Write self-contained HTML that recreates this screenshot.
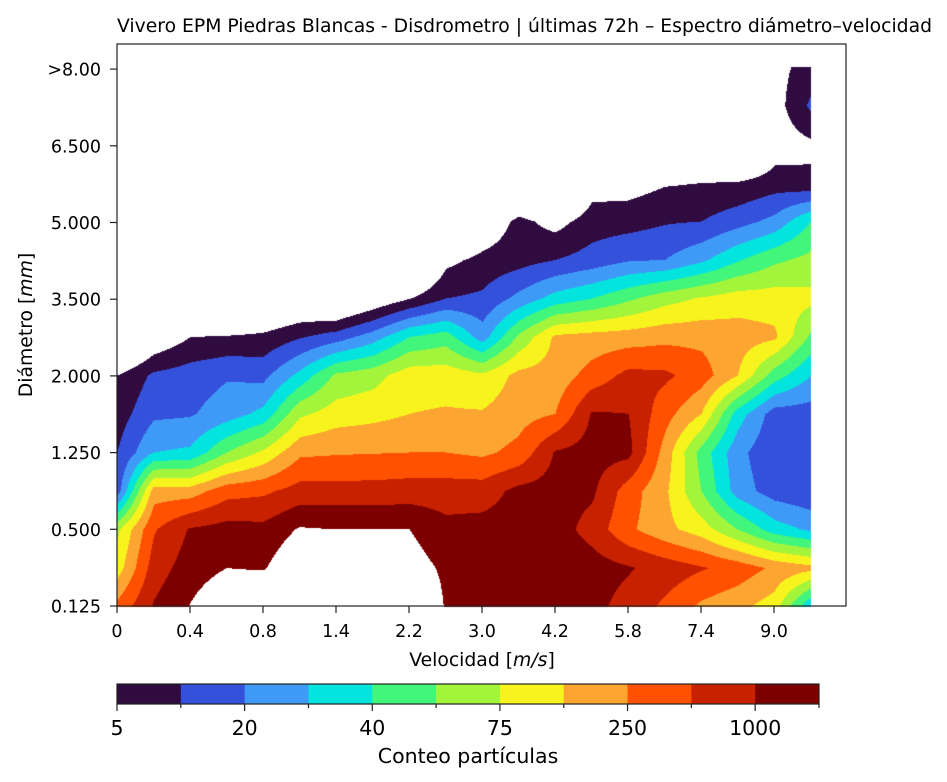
<!DOCTYPE html>
<html><head><meta charset="utf-8"><style>
body{margin:0;background:#fff;width:947px;height:782px;overflow:hidden;font-family:"DejaVu Sans","Liberation Sans",sans-serif}
#wrap{position:relative;width:947px;height:782px}
canvas{position:absolute;left:0;top:0}
svg{position:absolute;left:0;top:0;font-family:"DejaVu Sans","Liberation Sans",sans-serif}
</style></head><body>
<div id="wrap">
<canvas id="cv" width="947" height="782"></canvas>
<svg id="sv" width="947" height="782"></svg>
</div>
<script>
const xTickLabels=["0","0.4","0.8","1.4","2.2","3.0","4.2","5.8","7.4","9.0"];
const yTickLabels=["0.125","0.500","1.250","2.000","3.500","5.000","6.500",">8.00"];
const levelColors=["#300b40","#3451dc","#3f9af7","#04e4de","#42f57b","#a3f53b","#f7f31d","#fda531","#ff5100","#c82100","#7d0000"];
const cbTickLabels=["5","20","40","75","250","1000"];
// level values per velocity bin (rows: diameter bins bottom->top)
const col0=[8.3,6.5,5.8,1.5,1.0,0.5,0,-3,-3,-3,-3,-3,-3,-3,-3];
const col1=[10.1,9.5,8.9,7.5,3.0,1.8,1.2,-1,-3,-3,-3,-3,-3,-3,-3];
const col2=[11.05,10.5,10.1,7.5,3.2,1.9,1.5,0,-3,-3,-3,-3,-3,-3,-3];
const col3=[12,11.0,10.4,8.6,5.0,2.5,1.9,0.1,-3,-3,-3,-3,-3,-3,-3];
const col4=[12.5,10.9,10.3,8.8,6.2,3.3,1.7,0.25,-2,-3,-3,-3,-3,-3,-3];
const col5=[13,12,11.1,9.4,7.8,5.8,3.3,0.9,-1.5,-3,-3,-3,-3,-3,-3];
const col6=[13,12.5,11.0,9.4,7.9,6.5,5.2,1.5,-2,-3,-3,-3,-3,-3,-3];
const col7=[13,12.5,11.0,9.4,7.95,6.7,5.6,2.5,-1,-3,-3,-3,-3,-3,-3];
const col8=[12.5,11.5,11.0,9.5,8.0,7.0,6.6,4,-0.05,-3,-3,-3,-3,-3,-3];
const col9=[10.9,10.8,10.3,9.5,8.0,7.1,6.6,4.5,1.0,-0.3,-3,-3,-3,-3,-3];
const col10=[10.5,10.5,10.4,9.5,7.8,7.1,6.2,2.5,1.2,0.3,-1,-3,-3,-3,-3];
const col11=[10.6,10.6,10.5,10.3,8.3,7.6,7.3,5.2,2.3,0.6,0.3,-2,-3,-3,-3];
const col12=[10.6,10.7,10.5,10.4,10.1,8.0,7.4,7.2,3.4,1.0,-0.4,-3,-3,-3,-3];
const col13=[10.3,10.5,9.6,10.2,10.4,10.1,8.4,7.4,4.0,1.4,0.5,-0.5,-3,-3,-3];
const col14=[9.6,10.1,8.2,8.5,10.3,10.0,9.3,7.5,4.8,1.9,0.6,-0.5,-3,-3,-3];
const col15=[8.8,9.6,7.3,7.2,7.6,8.4,9.2,7.7,5.6,2.0,0.9,-0.1,-3,-3,-3];
const col16=[7.8,9.1,6.5,5.0,4.6,7.0,8.5,7.7,6.1,2.8,1.0,0.0,-3,-3,-3];
const col17=[7.3,8.6,5.0,2.5,2.3,3.5,7.0,7.5,6.5,3.9,1.6,0.1,-3,-3,-3];
const col18=[6.5,7.8,3.5,1.5,1.2,1.5,4.5,7.2,6.5,4.8,2.3,0.5,-0.6,-0.5,-0.34];
const col19=[3.0,7.3,2.8,1.2,1.3,1.5,3.0,4.8,6.3,5.3,4.0,0.2,-0.2,1.2,0.4];
const grid=[col0,col1,col2,col3,col4,col5,col6,col7,col8,col9,col10,col11,col12,col13,col14,col15,col16,col17,col18,col19];

const X0=117,X1=846,Y0=44,Y1=606;
const colW=36.5,rowH=38.5,gy0=606;
function xPos(c){return X0+c*colW;}
function yPos(r){return gy0-r*rowH;}

const cv=document.getElementById('cv');const ctx=cv.getContext('2d');
const img=ctx.createImageData(947,782);
function hex(h){return [parseInt(h.substr(1,2),16),parseInt(h.substr(3,2),16),parseInt(h.substr(5,2),16)];}
const rgb=levelColors.map(hex);
const nc=grid.length,nr=grid[0].length;
for(let py=Math.ceil(yPos(nr-1));py<=gy0;py++){
  const fr=(gy0-py)/rowH;
  for(let px=X0;px<=xPos(nc-1);px++){
    const fc=(px-X0)/colW;
    let c=Math.min(Math.floor(fc),nc-2),r=Math.min(Math.floor(fr),nr-2);
    const tx=fc-c,ty=fr-r;
    const v=(1-tx)*(1-ty)*grid[c][r]+tx*(1-ty)*grid[c+1][r]+(1-tx)*ty*grid[c][r+1]+tx*ty*grid[c+1][r+1];
    if(v<0||v>=11)continue;
    const k=rgb[Math.floor(v)];const i=(py*947+px)*4;
    img.data[i]=k[0];img.data[i+1]=k[1];img.data[i+2]=k[2];img.data[i+3]=255;
  }
}
ctx.putImageData(img,0,0);

const NS="http://www.w3.org/2000/svg";const sv=document.getElementById('sv');
function el(t,a,txt){const e=document.createElementNS(NS,t);for(const k in a)e.setAttribute(k,a[k]);if(txt!==undefined)e.textContent=txt;sv.appendChild(e);return e;}
let e;
e=el('rect',{x:X0,y:Y0,width:X1-X0,height:Y1-Y0,fill:'none',stroke:'#222','stroke-width':1.2});


e=el('text',{x:524.5,y:32,'font-size':18.8,'text-anchor':'middle',textLength:815,lengthAdjust:'spacingAndGlyphs'},'Vivero EPM Piedras Blancas - Disdrometro | últimas 72h – Espectro diámetro–velocidad');


xTickLabels.forEach((l,i)=>{const x=X0+i*73;
  e=el('line',{x1:x,x2:x,y1:Y1,y2:Y1+7,stroke:'#222','stroke-width':1.2});
  
  
  e=el('text',{x:x,y:Y1+31,'font-size':17.5,'text-anchor':'middle'},l);
  
  
});
yTickLabels.forEach((l,i)=>{const y=Y1-i*76.7;
  e=el('line',{x1:X0-7,x2:X0,y1:y,y2:y,stroke:'#222','stroke-width':1.2});
  
  
  e=el('text',{x:X0-16,y:y+6.5,'font-size':17.5,'text-anchor':'end'},l);
  
  
});
e=el('text',{x:482,y:666,'font-size':18.8,'text-anchor':'middle'});
e.innerHTML='Velocidad [<tspan font-style="italic">m/s</tspan>]';


e=el('text',{x:0,y:0,'font-size':18.8,'text-anchor':'middle',transform:'translate(32,325) rotate(-90)'});
e.innerHTML='Diámetro [<tspan font-style="italic">mm</tspan>]';


const CB0=117,CB1=819,CBy=684,CBh=20;const segW=(CB1-CB0)/levelColors.length;
levelColors.forEach((c,i)=>{
  e=el('rect',{x:CB0+i*segW,y:CBy,width:segW+0.5,height:CBh,fill:c});
  
  
});
e=el('rect',{x:CB0,y:CBy,width:CB1-CB0,height:CBh,fill:'none',stroke:'#222','stroke-width':1.2});


for(let i=0;i<=levelColors.length;i++){const x=CB0+i*segW;
  e=el('line',{x1:x,x2:x,y1:CBy+CBh,y2:CBy+CBh+(i%2?4:7),stroke:'#222','stroke-width':1.2});
  
  
}
cbTickLabels.forEach((l,i)=>{
  e=el('text',{x:CB0+i*2*segW,y:735,'font-size':20.5,'text-anchor':'middle'},l);
  
  
});
e=el('text',{x:468,y:763,'font-size':20.5,'text-anchor':'middle'},'Conteo partículas');


</script>
</body></html>
